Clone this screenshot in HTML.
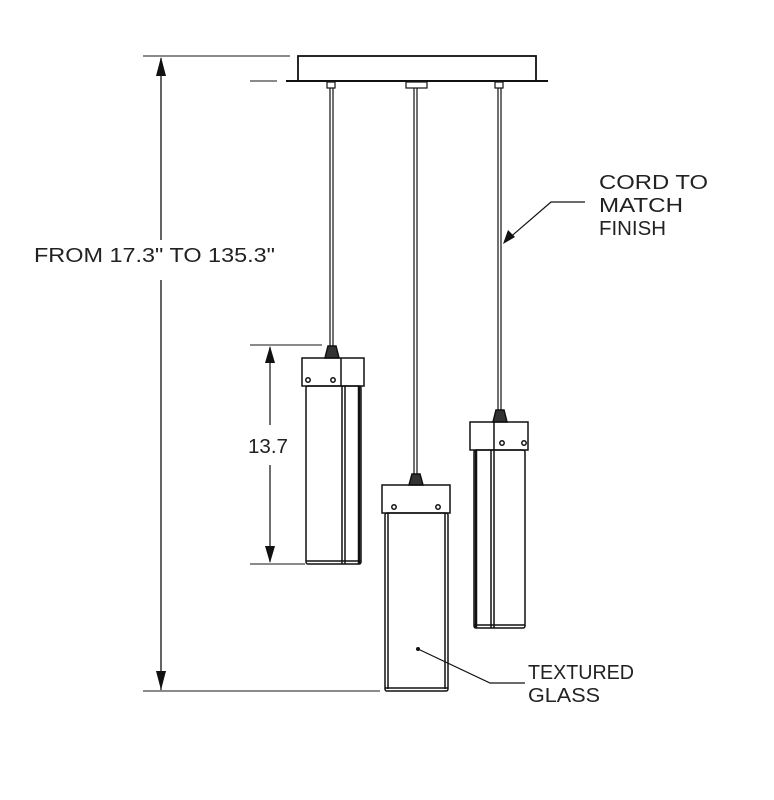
<!DOCTYPE html>
<html><head><style>html,body{margin:0;padding:0;background:#fff}svg{display:block}text{font-family:"Liberation Sans",sans-serif;fill:#222}</style></head>
<body>
<svg width="774" height="800" viewBox="0 0 774 800" xmlns="http://www.w3.org/2000/svg">
<g stroke="#111" fill="none" stroke-width="1.5">
<!-- canopy -->
<rect x="298" y="56" width="238" height="25" stroke-width="1.8"/>
<line x1="286" y1="81" x2="548" y2="81" stroke-width="2"/>
<!-- dim lines -->
<line x1="143" y1="56" x2="290" y2="56" stroke="#444" stroke-width="1.3"/>
<line x1="250" y1="81" x2="277" y2="81" stroke="#444" stroke-width="1.3"/>
<line x1="161" y1="58" x2="161" y2="240" stroke-width="1.3"/>
<line x1="161" y1="280" x2="161" y2="690" stroke-width="1.3"/>
<line x1="143" y1="691" x2="380" y2="691" stroke="#444" stroke-width="1.3"/>
<!-- 13.7 -->
<line x1="250" y1="345" x2="322" y2="345" stroke="#444" stroke-width="1.2"/>
<line x1="250" y1="564" x2="305" y2="564" stroke="#444" stroke-width="1.2"/>
<line x1="270" y1="347" x2="270" y2="425" stroke-width="1.2"/>
<line x1="270" y1="465" x2="270" y2="562" stroke-width="1.2"/>

<!-- nubs -->
<rect x="327" y="82" width="8" height="6" stroke-width="1.2"/>
<rect x="406" y="82" width="21" height="6" stroke-width="1.2"/>
<rect x="495" y="82" width="8" height="6" stroke-width="1.2"/>
<!-- cords -->
<line x1="330" y1="88" x2="330" y2="346" stroke-width="1.2"/>
<line x1="333" y1="88" x2="333" y2="346" stroke-width="1.2"/>
<line x1="414" y1="88" x2="414" y2="474" stroke-width="1.2"/>
<line x1="417" y1="88" x2="417" y2="474" stroke-width="1.2"/>
<line x1="498" y1="88" x2="498" y2="410" stroke-width="1.2"/>
<line x1="501" y1="88" x2="501" y2="410" stroke-width="1.2"/>

<!-- left pendant -->
<path d="M328 346 L336 346 L339 358 L325 358 Z" fill="#333"/>
<rect x="302" y="358" width="62" height="28"/>
<line x1="341" y1="358" x2="341" y2="386"/>
<rect x="306" y="386" width="55" height="178" rx="2"/>
<line x1="342" y1="386" x2="342" y2="564"/>
<line x1="345" y1="386" x2="345" y2="564"/>
<line x1="359" y1="386" x2="359" y2="564" stroke-width="2.5"/>
<line x1="306" y1="561" x2="361" y2="561"/>
<circle cx="308" cy="380" r="2.2"/><circle cx="333" cy="380" r="2.2"/>

<!-- center pendant -->
<path d="M412 474 L420 474 L423 485 L409 485 Z" fill="#333"/>
<rect x="382" y="485" width="68" height="28"/>
<circle cx="394" cy="507" r="2.2"/><circle cx="438" cy="507" r="2.2"/>
<rect x="385" y="513" width="63" height="178" rx="2"/>
<line x1="388" y1="513" x2="388" y2="689"/>
<line x1="445" y1="513" x2="445" y2="689"/>
<line x1="385" y1="688" x2="448" y2="688"/>

<!-- right pendant -->
<path d="M496 410 L504 410 L507 422 L493 422 Z" fill="#333"/>
<rect x="470" y="422" width="58" height="28"/>
<line x1="494" y1="422" x2="494" y2="450"/>
<circle cx="502" cy="443" r="2.2"/><circle cx="524" cy="443" r="2.2"/>
<rect x="474" y="450" width="51" height="178" rx="2"/>
<line x1="476" y1="450" x2="476" y2="628" stroke-width="2.5"/>
<line x1="491" y1="450" x2="491" y2="628"/>
<line x1="494" y1="450" x2="494" y2="628"/>
<line x1="474" y1="625" x2="525" y2="625"/>

<!-- leaders -->
<polyline points="585,202 551,202 507,240" stroke-width="1.2"/>
<polyline points="418,649 490,683 525,683" stroke-width="1.2"/>
</g>
<circle cx="418" cy="649" r="2" fill="#111"/>
<!-- arrowheads -->
<g fill="#111">
<polygon points="161,57 156,76 166,76"/>
<polygon points="161,690 156,671 166,671"/>
<polygon points="270,346 265,363 275,363"/>
<polygon points="270,563 265,546 275,546"/>
<polygon points="503,244 508,230 515,237"/>
</g>
<text x="34" y="262" font-size="20" textLength="241" lengthAdjust="spacingAndGlyphs">FROM 17.3" TO 135.3"</text>
<text x="248" y="453" font-size="20" textLength="40" lengthAdjust="spacingAndGlyphs">13.7</text>
<text x="599" y="189" font-size="20" textLength="109" lengthAdjust="spacingAndGlyphs">CORD TO</text>
<text x="599" y="212" font-size="20" textLength="84" lengthAdjust="spacingAndGlyphs">MATCH</text>
<text x="599" y="235" font-size="20" textLength="67" lengthAdjust="spacingAndGlyphs">FINISH</text>
<text x="528" y="679" font-size="20" textLength="106" lengthAdjust="spacingAndGlyphs">TEXTURED</text>
<text x="528" y="702" font-size="20" textLength="72" lengthAdjust="spacingAndGlyphs">GLASS</text>
</svg>
</body></html>
